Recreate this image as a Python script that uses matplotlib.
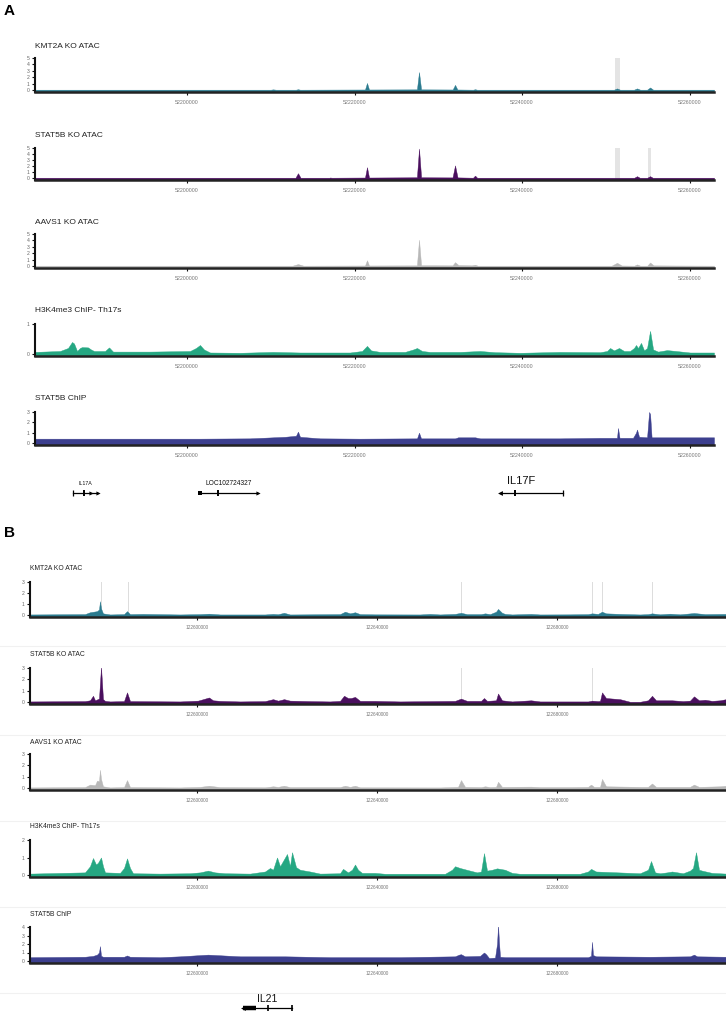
import matplotlib
matplotlib.use("Agg")
import matplotlib.pyplot as plt
from matplotlib.lines import Line2D

plt.rcParams['font.family'] = ['Liberation Sans', 'DejaVu Sans']

# ---------------- panel A : IL17A / IL17F locus ----------------
a_xlim = (52181850, 52262920)
a_xticks = [52200000, 52220000, 52240000, 52260000]

a_kmt2a_pos = [52181850, 52210000, 52210270, 52210600, 52213000, 52213250, 52213500,
               52221250, 52221490, 52221730, 52227450, 52227700, 52227950,
               52231720, 52232000, 52232280, 52234150, 52234390, 52234630,
               52250980, 52251340, 52251700, 52253370, 52253730, 52254100,
               52254930, 52255290, 52255650, 52262920]
a_kmt2a_val = [0.05, 0.05, 0.1, 0.05, 0.05, 0.12, 0.05,
               0.08, 1.1, 0.08, 0.1, 2.8, 0.1,
               0.08, 0.8, 0.08, 0.05, 0.12, 0.05,
               0.05, 0.25, 0.05, 0.05, 0.25, 0.05,
               0.05, 0.4, 0.05, 0.05]

a_stat5b_pos = [52181850, 52212950, 52213250, 52213550, 52217000, 52217070, 52217300,
                52221250, 52221490, 52221730, 52227450, 52227700, 52227950,
                52231700, 52232000, 52232300, 52234150, 52234390, 52234630,
                52253400, 52253730, 52254050, 52254950, 52255290, 52255600, 52262920]
a_stat5b_val = [0.05, 0.05, 0.8, 0.05, 0.05, 0.08, 0.05,
                0.08, 1.8, 0.08, 0.12, 4.9, 0.12,
                0.1, 2.1, 0.1, 0.05, 0.4, 0.05,
                0.05, 0.3, 0.05, 0.05, 0.3, 0.05, 0.05]

a_aavs1_pos = [52181850, 52212600, 52213250, 52213900, 52221250, 52221490, 52221730,
               52227450, 52227700, 52227950, 52231700, 52232000, 52232400,
               52234000, 52234390, 52234700, 52250700, 52251340, 52251900,
               52253400, 52253730, 52254100, 52254950, 52255290, 52255700,
               52258000, 52262920]
a_aavs1_val = [0.05, 0.05, 0.3, 0.05, 0.08, 0.9, 0.08,
               0.1, 4.1, 0.12, 0.1, 0.6, 0.15,
               0.1, 0.2, 0.05, 0.05, 0.5, 0.08,
               0.05, 0.25, 0.05, 0.05, 0.55, 0.1,
               0.08, 0.05]

a_h3k4_pos = [52181850, 52184840, 52185790, 52186270, 52186510, 52186870, 52187220,
              52187460, 52188180, 52188540, 52188900, 52190210, 52190690, 52191160,
              52195580, 52200360, 52201070, 52201550, 52202030, 52202750, 52206330,
              52210270, 52213490, 52219460, 52220900, 52221490, 52221970, 52223040,
              52226030, 52226990, 52227460, 52228060, 52229010, 52232600, 52234990,
              52236780, 52239760, 52244540, 52249310, 52250150, 52250510, 52250980,
              52251580, 52252180, 52252890, 52253370, 52253610, 52253850, 52254210,
              52254570, 52254930, 52255290, 52255650, 52256240, 52257310, 52258380,
              52260060, 52262920]
a_h3k4_val = [0.07, 0.1, 0.2, 0.4, 0.35, 0.1, 0.2,
              0.23, 0.22, 0.15, 0.1, 0.1, 0.22, 0.08,
              0.08, 0.1, 0.2, 0.3, 0.15, 0.05, 0.04,
              0.07, 0.05, 0.05, 0.1, 0.27, 0.12, 0.07,
              0.07, 0.15, 0.2, 0.1, 0.07, 0.07, 0.1,
              0.06, 0.04, 0.07, 0.06, 0.1, 0.2, 0.12,
              0.2, 0.1, 0.1, 0.2, 0.3, 0.2, 0.37,
              0.12, 0.2, 0.77, 0.15, 0.08, 0.13, 0.1,
              0.05, 0.05]

a_chip_pos = [52181850, 52201550, 52207520, 52211700, 52213010, 52213250, 52213490,
              52215880, 52220660, 52227460, 52227700, 52227940, 52232000, 52232360,
              52234390, 52234990, 52244540, 52249310, 52251340, 52251460, 52251640,
              52253250, 52253610, 52253730, 52253970, 52254930, 52255170, 52255290,
              52255470, 52258860, 52262920]
a_chip_val = [0.42, 0.42, 0.45, 0.6, 0.7, 1.1, 0.6,
              0.45, 0.42, 0.45, 1.0, 0.45, 0.45, 0.55,
              0.55, 0.45, 0.45, 0.5, 0.5, 1.45, 0.5,
              0.5, 1.0, 1.3, 0.6, 0.55, 3.0, 2.8,
              0.55, 0.55, 0.55]

a_hl_kmt2a = [(52251100, 52251700)]
a_hl_stat5b = [(52251100, 52251700), (52255050, 52255350)]

a_gene_names = ['IL17A', 'LOC102724327', 'IL17F']
a_gene_start = [52186390, 52201550, 52237370]
a_gene_end = [52189370, 52208480, 52244890]
a_gene_mid = [52187700, 52203700, 52239160]
a_gene_strand = ['+', '+', '-']

# ---------------- panel B : IL21 locus ----------------
b_xlim = (122562890, 122717540)
b_xticks = [122600000, 122640000, 122680000]

b_kmt2a_pos = [122562890, 122575110, 122576220, 122577780, 122578220, 122578440, 122578670,
               122579110, 122580670, 122583780, 122584450, 122585110, 122588000, 122596220,
               122600670, 122602670, 122605110, 122615110, 122616890, 122618000, 122619330,
               122620660, 122631775, 122632890, 122634000, 122635110, 122636220, 122639550,
               122649550, 122651770, 122654000, 122657330, 122658660, 122660000, 122663110,
               122664000, 122665110, 122666440, 122666890, 122667770, 122668440, 122670000,
               122674210, 122676210, 122682880, 122686880, 122687770, 122689100, 122689990,
               122690880, 122693990, 122698430, 122700210, 122701100, 122702880, 122705100,
               122707320, 122710430, 122712880, 122717540]
b_kmt2a_val = [0.05, 0.08, 0.25, 0.35, 0.5, 1.25, 0.6,
               0.15, 0.05, 0.08, 0.35, 0.08, 0.1, 0.05,
               0.08, 0.12, 0.05, 0.05, 0.1, 0.07, 0.2,
               0.05, 0.08, 0.3, 0.15, 0.25, 0.08, 0.06,
               0.05, 0.1, 0.05, 0.1, 0.2, 0.08, 0.08,
               0.15, 0.08, 0.3, 0.55, 0.2, 0.1, 0.05,
               0.1, 0.05, 0.06, 0.08, 0.15, 0.1, 0.3,
               0.15, 0.1, 0.05, 0.08, 0.15, 0.06, 0.12,
               0.06, 0.18, 0.08, 0.1]

b_stat5b_pos = [122562890, 122575110, 122576220, 122576890, 122577340, 122578220, 122578670,
                122579110, 122579560, 122580670, 122583780, 122584450, 122585110, 122596220,
                122600220, 122602670, 122603560, 122605110, 122609550, 122615110, 122616890,
                122618000, 122619330, 122620660, 122625110, 122629550, 122631775, 122632660,
                122633550, 122634220, 122635110, 122636220, 122639550, 122645110, 122657330,
                122658660, 122660000, 122663110, 122663770, 122664440, 122666440, 122666890,
                122667770, 122670000, 122674210, 122676210, 122686880, 122687770, 122689100,
                122689550, 122689990, 122690880, 122693990, 122696210, 122698430, 122700210,
                122701100, 122701990, 122705540, 122707990, 122709540, 122710430, 122711540,
                122712880, 122714430, 122716210, 122717540]
b_stat5b_val = [0.05, 0.08, 0.15, 0.55, 0.15, 0.3, 3.1,
                0.25, 0.1, 0.05, 0.08, 0.85, 0.08, 0.05,
                0.12, 0.4, 0.15, 0.1, 0.05, 0.08, 0.25,
                0.12, 0.25, 0.12, 0.08, 0.05, 0.1, 0.55,
                0.35, 0.35, 0.45, 0.1, 0.1, 0.05, 0.1,
                0.3, 0.1, 0.1, 0.35, 0.1, 0.15, 0.75,
                0.15, 0.05, 0.15, 0.05, 0.05, 0.12, 0.08,
                0.1, 0.85, 0.35, 0.25, 0.02, 0.02, 0.15,
                0.55, 0.15, 0.15, 0.08, 0.12, 0.5, 0.15,
                0.2, 0.1, 0.15, 0.25]

b_aavs1_pos = [122562890, 122575110, 122576220, 122577340, 122577780, 122578220, 122578440,
               122578670, 122579110, 122580670, 122583780, 122584450, 122585110, 122596220,
               122600670, 122602670, 122605110, 122615110, 122616890, 122618000, 122619330,
               122620660, 122631775, 122632890, 122634000, 122635110, 122636220, 122654000,
               122658000, 122658660, 122659550, 122663110, 122664000, 122665110, 122666440,
               122666890, 122667770, 122674210, 122676210, 122682880, 122686880, 122687550,
               122688210, 122689550, 122689990, 122690880, 122698430, 122700210, 122701100,
               122701990, 122709540, 122710430, 122711540, 122716210, 122717540]
b_aavs1_val = [0.05, 0.08, 0.3, 0.25, 0.65, 0.6, 1.6,
               0.8, 0.15, 0.05, 0.08, 0.7, 0.08, 0.05,
               0.1, 0.2, 0.08, 0.06, 0.15, 0.1, 0.2,
               0.08, 0.08, 0.2, 0.1, 0.2, 0.06, 0.05,
               0.1, 0.7, 0.1, 0.08, 0.15, 0.08, 0.1,
               0.55, 0.1, 0.12, 0.08, 0.08, 0.1, 0.3,
               0.1, 0.1, 0.8, 0.15, 0.1, 0.1, 0.4,
               0.1, 0.1, 0.3, 0.1, 0.15, 0.2]

b_h3k4_pos = [122562890, 122575110, 122576220, 122576890, 122577560, 122578000, 122578670,
              122579110, 122579560, 122582890, 122583780, 122584450, 122585110, 122585780,
              122591780, 122598440, 122600670, 122602440, 122604000, 122606220, 122611780,
              122615110, 122616220, 122616890, 122617780, 122618440, 122619110, 122620000,
              122620660, 122621110, 122622000, 122622890, 122625110, 122627330, 122631775,
              122632440, 122633550, 122634440, 122635110, 122635770, 122636660, 122639550,
              122641770, 122655110, 122656660, 122657330, 122658440, 122660660, 122662220,
              122663110, 122663770, 122664440, 122665550, 122666660, 122668440, 122670000,
              122671770, 122685100, 122686880, 122687550, 122688660, 122698430, 122700210,
              122700880, 122701770, 122702880, 122704430, 122705540, 122707990, 122709540,
              122710210, 122710880, 122711540, 122712210, 122714430, 122717540]
b_h3k4_val = [0.08, 0.15, 0.5, 0.97, 0.6, 0.7, 1.0,
              0.5, 0.15, 0.12, 0.4, 0.95, 0.4, 0.1,
              0.08, 0.1, 0.15, 0.25, 0.15, 0.1, 0.08,
              0.2, 0.4, 0.3, 1.0, 0.5, 0.8, 1.2,
              0.5, 1.3, 0.45, 0.3, 0.2, 0.08, 0.1,
              0.35, 0.15, 0.3, 0.6, 0.3, 0.12, 0.12,
              0.07, 0.07, 0.3, 0.5, 0.4, 0.25, 0.15,
              0.2, 1.25, 0.25, 0.3, 0.38, 0.3, 0.12,
              0.07, 0.07, 0.2, 0.35, 0.2, 0.1, 0.3,
              0.8, 0.15, 0.1, 0.15, 0.2, 0.1, 0.25,
              0.4, 1.3, 0.3, 0.25, 0.12, 0.08]

b_chip_pos = [122562890, 122575110, 122576890, 122577780, 122578220, 122578440, 122578670,
              122579110, 122583780, 122584450, 122585110, 122591780, 122596220, 122602440,
              122609550, 122619550, 122629550, 122645110, 122657330, 122658220, 122658660,
              122659550, 122662880, 122663770, 122664220, 122664880, 122666220, 122666660,
              122666890, 122667100, 122667330, 122668440, 122686880, 122687550, 122687770,
              122687990, 122688660, 122700660, 122709540, 122710430, 122711100, 122717540]
b_chip_val = [0.45, 0.5, 0.6, 0.75, 1.0, 1.75, 0.6,
              0.5, 0.5, 0.65, 0.5, 0.45, 0.55, 0.75,
              0.55, 0.55, 0.45, 0.45, 0.55, 0.75, 0.8,
              0.55, 0.6, 1.0, 0.8, 0.35, 0.4, 2.0,
              4.2, 2.2, 0.5, 0.45, 0.45, 0.6, 2.25,
              0.7, 0.55, 0.5, 0.55, 0.75, 0.55, 0.5]

b_hl_kmt2a = [122578670, 122584670, 122658660, 122687770, 122689990, 122701100]
b_hl_stat5b = [122658660, 122687770]

b_gene_names = ['IL21']
b_gene_start = [122610220]
b_gene_end = [122621110]
b_gene_mid = [122615780]
b_gene_box_end = [122613110]

track_titles = ['KMT2A KO ATAC', 'STAT5B KO ATAC', 'AAVS1 KO ATAC',
                'H3K4me3 ChIP- Th17s', 'STAT5B ChIP']
track_colors = ['#2b7b8f', '#4a0f5e', '#b8b8b8', '#25a782', '#3c3f8e']

W, H = 726, 1011
fig = plt.figure(figsize=(W / 100, H / 100), dpi=100)


def box(left, right, top, bottom):
    return [left / W, 1 - bottom / H, (right - left) / W, (bottom - top) / H]


def track(left, right, y0, ytop, ymax, xlim, xticks, pos, val, color,
          title, title_y, title_size, tick_size, bars=(), lines=()):
    ppu = (y0 - ytop) / ymax
    lo = -2.0 / ppu
    ax = fig.add_axes(box(left, right, ytop, y0 + 2))
    ax.set_xlim(*xlim)
    ax.set_ylim(lo, ymax)
    for b0, b1 in bars:
        ax.axvspan(b0, b1, color='#e4e4e4', lw=0, zorder=0)
    for xl in lines:
        ax.axvline(xl, color='#dcdcdc', lw=0.7, zorder=0)
    ax.fill_between(pos, val, lo, color=color, lw=0.3, edgecolor=color, zorder=2)
    for s in ['top', 'right']:
        ax.spines[s].set_visible(False)
    ax.spines['left'].set_linewidth(1.5)
    ax.spines['bottom'].set_linewidth(1.8)
    ax.spines['left'].set_color('#111111')
    ax.spines['bottom'].set_color('#222222')
    ax.spines['left'].set_bounds(lo, ymax)
    ax.set_yticks(range(0, ymax + 1))
    ax.set_xticks(xticks)
    ax.set_xticklabels([str(t) for t in xticks])
    ax.tick_params(axis='y', length=2.5, width=0.8, pad=1.5, labelsize=3.6,
                   labelcolor='#666666', color='#111111')
    ax.tick_params(axis='x', length=2.5, width=0.8, pad=3, labelsize=tick_size,
                   labelcolor='#777777', color='#111111')
    ax.patch.set_alpha(0)
    fig.text(left / W, 1 - title_y / H, title, fontsize=title_size,
             color='#222222', va='center', ha='left')
    return ax


# panel A tracks
a_pos = [a_kmt2a_pos, a_stat5b_pos, a_aavs1_pos, a_h3k4_pos, a_chip_pos]
a_val = [a_kmt2a_val, a_stat5b_val, a_aavs1_val, a_h3k4_val, a_chip_val]
a_y0 = [90, 178, 266, 354, 443]
a_top = [58, 148, 234, 324, 412]
a_max = [5, 5, 5, 1, 3]
a_title_y = [47, 135, 223, 311, 398]
a_bars = [a_hl_kmt2a, a_hl_stat5b, [], [], []]
for i in range(5):
    track(35, 714, a_y0[i], a_top[i], a_max[i], a_xlim, a_xticks, a_pos[i], a_val[i],
          track_colors[i], track_titles[i], a_title_y[i], 6.0, 3.8, bars=a_bars[i])

# panel B tracks
b_pos = [b_kmt2a_pos, b_stat5b_pos, b_aavs1_pos, b_h3k4_pos, b_chip_pos]
b_val = [b_kmt2a_val, b_stat5b_val, b_aavs1_val, b_h3k4_val, b_chip_val]
b_y0 = [615, 702, 788, 875, 961]
b_top = [582, 668, 754, 840, 927]
b_max = [3, 3, 3, 2, 4]
b_title_y = [568, 655, 742, 827, 914]
b_lines = [b_hl_kmt2a, b_hl_stat5b, [], [], []]
for i in range(5):
    track(30, 726, b_y0[i], b_top[i], b_max[i], b_xlim, b_xticks, b_pos[i], b_val[i],
          track_colors[i], track_titles[i], b_title_y[i], 4.9, 3.4, lines=b_lines[i])

# faint separators between the panel B tracks
for yy in [646, 735, 821, 907, 993]:
    fig.add_artist(Line2D([0, 1], [1 - yy / H, 1 - yy / H], color='#f1f1f1', lw=0.8))

# gene track A
ga = fig.add_axes(box(35, 714, 470, 500))
ga.set_xlim(*a_xlim)
ga.set_ylim(0, 1)
ga.axis('off')
gy = 0.233
label_size = [3.8, 4.8, 8]
label_y = [0.54, 0.55, 0.62]
for i, name in enumerate(a_gene_names):
    s, e, m = a_gene_start[i], a_gene_end[i], a_gene_mid[i]
    ga.plot([s, e], [gy, gy], color='black', lw=0.9)
    ga.plot([m], [gy], marker='|', ms=4, mew=1.4, color='black')
    if a_gene_strand[i] == '+':
        ga.plot([e], [gy], marker='>', ms=3, color='black', mew=0)
        if name == 'IL17A':
            ga.plot([s], [gy], marker='|', ms=4, mew=0.9, color='black')
            ga.plot([(m + e) / 2], [gy], marker='>', ms=3, color='black', mew=0)
        else:
            ga.plot([s], [gy], marker='s', ms=3, color='black', mew=0)
    else:
        ga.plot([s], [gy], marker='<', ms=3.5, color='black', mew=0)
        ga.plot([e], [gy], marker='|', ms=4, mew=0.9, color='black')
    ga.text((s + e) / 2 if name != 'IL17F' else (s + e) / 2 - 1200, label_y[i], name,
            fontsize=label_size[i], ha='center', va='center', color='#111111')

# gene track B
gb = fig.add_axes(box(30, 726, 990, 1011))
gb.set_xlim(*b_xlim)
gb.set_ylim(0, 1)
gb.axis('off')
gyb = 0.14
for i, name in enumerate(b_gene_names):
    s, e, m, be = b_gene_start[i], b_gene_end[i], b_gene_mid[i], b_gene_box_end[i]
    gb.plot([s, e], [gyb, gyb], color='black', lw=0.9)
    gb.plot([s, be], [gyb, gyb], color='black', lw=3.2, solid_capstyle='butt')
    gb.plot([s], [gyb], marker='<', ms=3.5, color='black', mew=0)
    gb.plot([m], [gyb], marker='|', ms=4, mew=1.2, color='black')
    gb.plot([e], [gyb], marker='|', ms=4, mew=1.2, color='black')
    gb.text((s + e) / 2, 0.57, name, fontsize=7.5, ha='center', va='center',
            color='#111111')

fig.text(4 / W, 1 - 11 / H, 'A', fontsize=11, fontweight='bold', va='center', ha='left')
fig.text(4 / W, 1 - 533 / H, 'B', fontsize=11, fontweight='bold', va='center', ha='left')

fig.savefig('out.png', dpi=100)
